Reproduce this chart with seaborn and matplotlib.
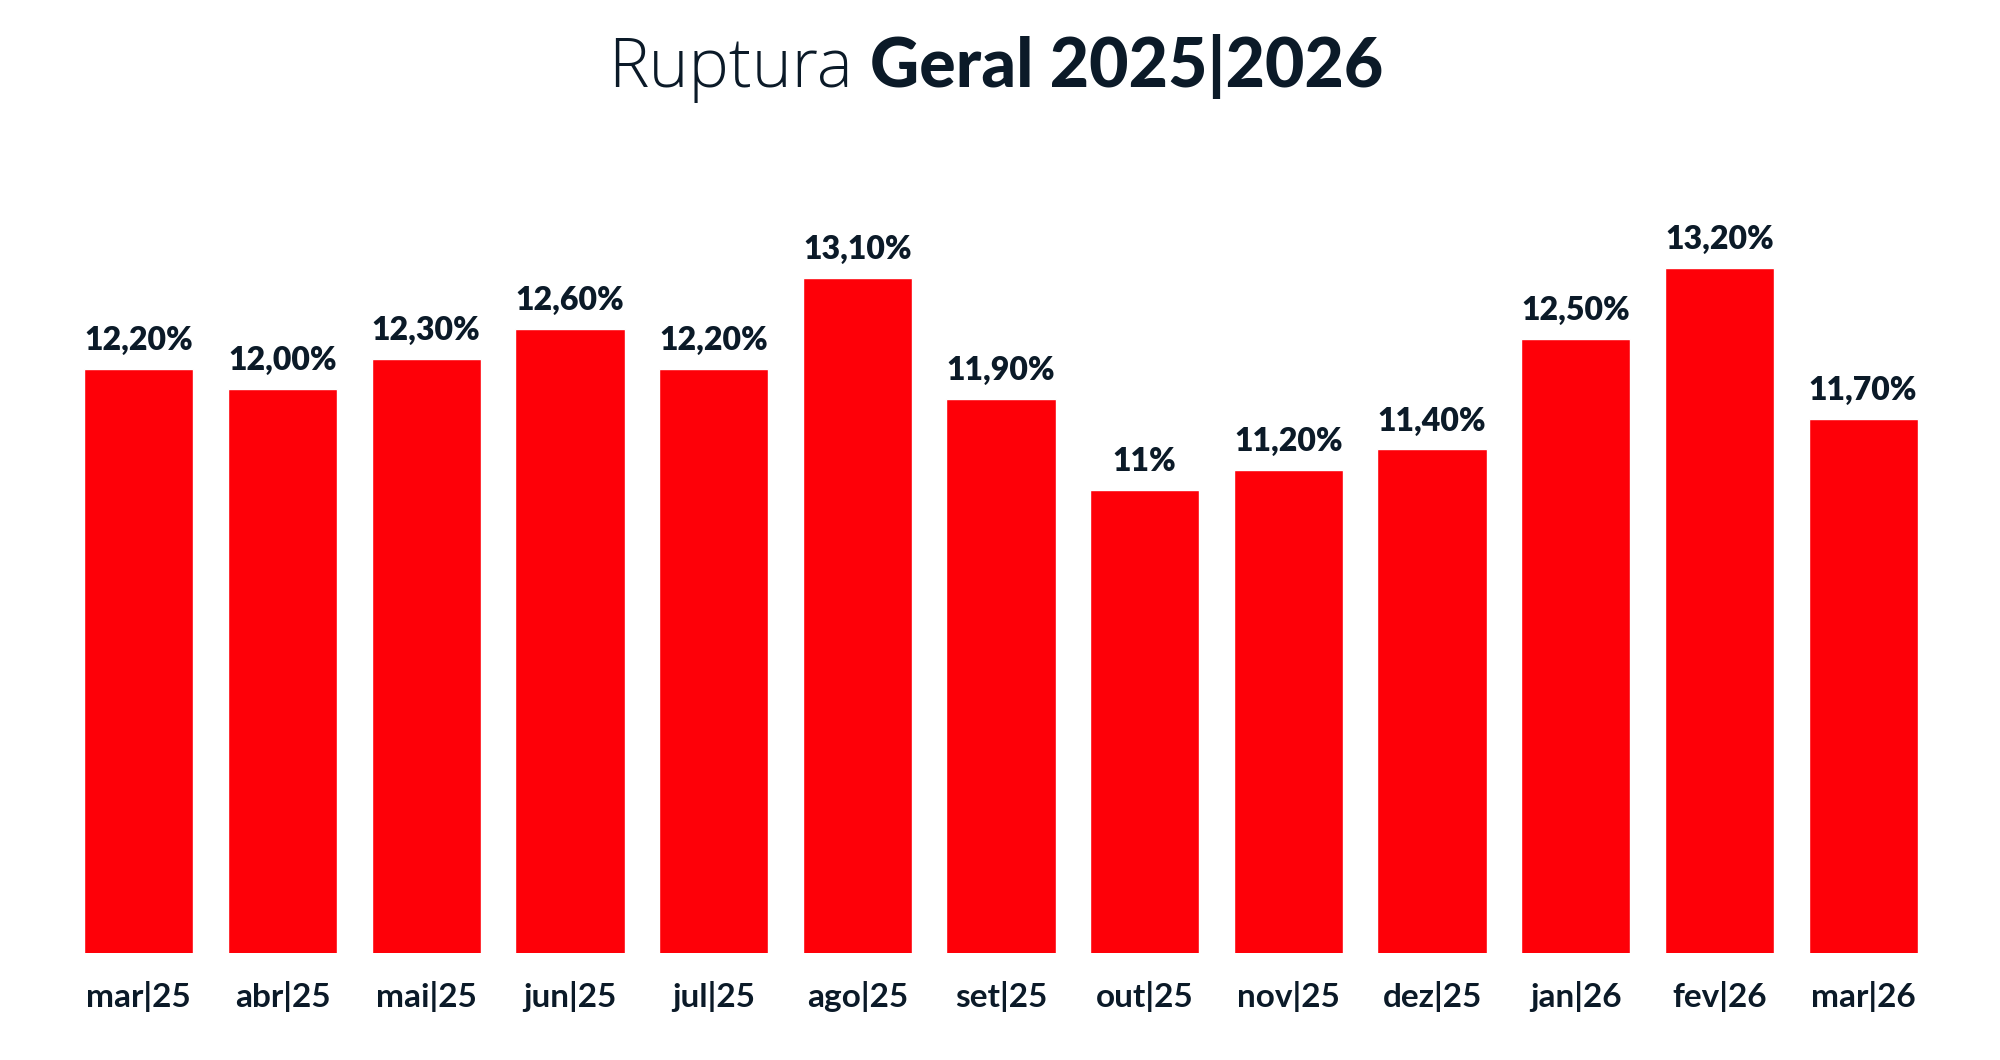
import matplotlib
matplotlib.use("Agg")
import matplotlib.pyplot as plt
import seaborn as sns
import pandas as pd

# data
months = ['mar|25', 'abr|25', 'mai|25', 'jun|25', 'jul|25', 'ago|25', 'set|25',
          'out|25', 'nov|25', 'dez|25', 'jan|26', 'fev|26', 'mar|26']
ruptura = [12.2, 12.0, 12.3, 12.6, 12.2, 13.1, 11.9, 11.0, 11.2, 11.4, 12.5, 13.2, 11.7]
value_labels = ['12,20%', '12,00%', '12,30%', '12,60%', '12,20%', '13,10%', '11,90%',
                '11%', '11,20%', '11,40%', '12,50%', '13,20%', '11,70%']

df = pd.DataFrame({'mes': months, 'ruptura': ruptura})

sns.set_theme(style='white')
plt.rcParams['font.family'] = ['Lato', 'DejaVu Sans']

RED = '#fe0008'
NAVY = '#0b1a28'

fig = plt.figure(figsize=(20, 10.6), dpi=100)
ax = fig.add_axes([0.0335, 0.101, 0.934, 0.76])

sns.barplot(data=df, x='mes', y='ruptura', color=RED, saturation=1, width=0.76, ax=ax)

ax.set_ylim(6.4, 14.4)
ax.set_xlim(-0.5, len(months) - 0.5)

for i, (v, lab) in enumerate(zip(ruptura, value_labels)):
    ax.annotate(lab, (i, v), xytext=(0, 10), textcoords='offset points',
                ha='center', va='bottom', fontsize=23, fontweight='heavy', color=NAVY)

ax.set_xlabel('')
ax.set_ylabel('')
ax.set_yticks([])
ax.tick_params(axis='x', length=0, pad=20, labelsize=24, labelcolor=NAVY)
for t in ax.get_xticklabels():
    t.set_fontweight('bold')
sns.despine(ax=ax, left=True, bottom=True)

fig.text(0.4265, 0.918, 'Ruptura', ha='right', va='baseline', fontsize=49,
         family=['Open Sans', 'DejaVu Sans'], fontweight='light', color=NAVY)
fig.text(0.435, 0.918, 'Geral 2025|2026', ha='left', va='baseline', fontsize=49,
         fontweight='black', color=NAVY)

fig.savefig('out.png', dpi=100, facecolor='white')
